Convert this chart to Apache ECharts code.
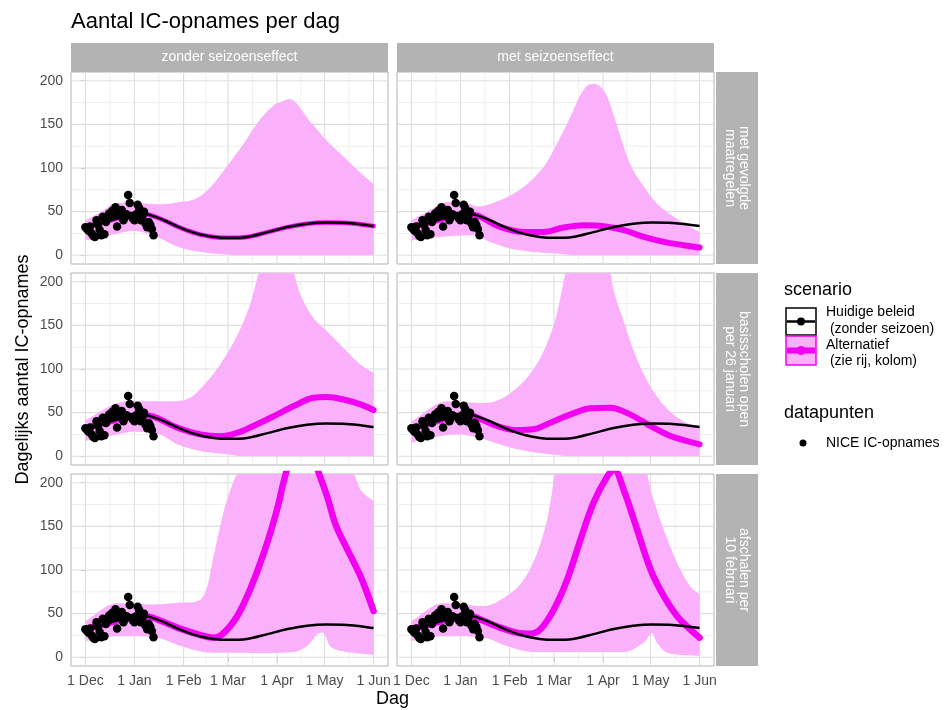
<!DOCTYPE html>
<html>
<head>
<meta charset="utf-8">
<script src="https://cdn.jsdelivr.net/npm/echarts@6/dist/echarts.min.js"></script>
<style>
  html, body { margin: 0; padding: 0; background: #fff; }
  #chart { width: 945px; height: 710px; }
</style>
</head>
<body>
<div id="chart"></div>
<script>
// dagen sinds 1 dec 2020
const monthDays = [0, 31, 62, 90, 121, 151, 182];
const monthLabels = ['1 Dec', '1 Jan', '1 Feb', '1 Mar', '1 Apr', '1 May', '1 Jun'];
const minorDays = [15.5, 46.5, 76, 105.5, 136, 166.5];
const yMajor = [0, 50, 100, 150, 200];
const yMinor = [25, 75, 125, 175];

const colLabels = ['zonder seizoenseffect', 'met seizoenseffect'];
const rowLabels = [
    ['met gevolgde', 'maatregelen'],
    ['basisscholen open', 'per 26 januari'],
    ['afschalen per', '10 februari']
];

// NICE datapunten
const niceDays = [0, 1, 2, 3, 4, 5, 6, 7, 8, 9, 10, 11, 12, 13, 14, 15, 16, 17, 18, 19, 20, 21,
    22, 23, 24, 25, 26, 27, 28, 29, 30, 31, 32, 33, 34, 35, 36, 37, 38, 39, 40, 41, 42, 43];
const niceValues = [32, 30, 28, 33, 25, 22, 21, 40, 35, 29, 23, 44, 24, 38, 42, 48, 45, 51, 47, 55, 33, 50,
    46, 52, 40, 44, 47, 69, 60, 45, 42, 40, 47, 58, 54, 40, 44, 50, 36, 32, 38, 35, 30, 23];

// huidige beleid (zelfde in elk paneel)
const baseline = [[0, 32], [10, 37], [20, 42], [31, 46.5], [38, 47], [45, 43.5], [51, 39], [58, 33], [65, 28],
    [72, 24], [81, 21], [90, 20], [102, 21], [115, 26.5], [127, 32], [140, 36], [152, 37.5], [165, 37], [182, 33.5]];

// rij 1: met gevolgde maatregelen
const r1c1Upper = [[0, 40], [10, 50], [18, 59], [30, 60], [47, 58.5], [60, 61], [70, 65], [79, 78], [89, 101],
    [100, 128], [110, 155], [119, 172], [124, 176], [129, 179], [142, 153], [152, 132], [163, 113], [174, 94], [182, 81.5]];
const r1c1Lower = [[0, 17], [16, 23], [30, 28], [45, 21], [58, 10], [72, 4], [89, 0.8], [100, 0], [182, 0]];
const r1c2Upper = [[0, 40], [12, 52], [22.5, 61], [35, 60], [41.5, 56], [56, 63], [71, 78.5], [83.6, 101.5], [92, 128],
    [100.5, 159], [106.8, 184], [113, 196], [118, 195], [123.6, 182], [130, 147.5], [138, 105], [146.8, 78.5],
    [155, 59.4], [165.7, 44], [176, 32.6], [182, 26.8]];
const r1c2Lower = [[0, 17], [18, 21], [39, 23], [50, 15], [62.5, 7.7], [77, 3.8], [92, 1.9], [105, 0], [182, 0]];
const r1c2Alt = [[0, 32], [10, 37], [20, 42], [31, 46.5], [38, 47], [43.6, 44], [56, 32.6], [71, 26.8], [83.6, 26.8],
    [96, 31.8], [108.9, 34.5], [121.5, 33.3], [134, 28.7], [146.8, 21], [159.4, 15.3], [172, 11.5], [182, 8.8]];

// rij 2: basisscholen open per 26 januari
const r2c1Upper = [[0, 41], [20, 61], [37, 63], [54, 63], [66, 67], [75, 82], [85, 105], [96, 139], [104, 174],
    [109.5, 210], [115, 235], [122, 245], [128, 228], [131.6, 210], [135.8, 185], [144, 158.5], [152.7, 143],
    [163, 124], [173.7, 105], [182, 95.6]];
const r2c1Lower = [[0, 17.5], [20, 25], [30, 28], [47, 25], [58, 13.7], [72.7, 6], [89.5, 2.3], [100, 0], [182, 0]];
const r2c1Alt = [[0, 32], [10, 37], [20, 42], [31, 46.5], [38, 47], [45, 44], [58, 32.8], [72.7, 25], [85, 23],
    [96, 27], [106, 34.7], [119, 46], [131.6, 57.5], [144, 67], [152.7, 67.8], [163, 65], [173.7, 59.4], [182, 53]];
const r2c2Upper = [[0, 40], [22.5, 63], [45.7, 61], [58, 67], [71, 86], [81.5, 113], [90, 151], [94, 181], [97.3, 210],
    [104, 245], [112, 260], [120, 245], [125.7, 210], [127.8, 189], [134, 155], [140.5, 120], [149, 86],
    [159, 59.4], [170, 42], [182, 32.8]];
const r2c2Lower = [[0, 15.6], [15, 22], [29, 25], [45.7, 19.4], [62.5, 10], [79.4, 4], [92, 1.5], [100, 0], [182, 0]];
const r2c2Alt = [[0, 32], [10, 37], [20, 42], [31, 46.5], [38, 47], [42, 44], [54, 34.7], [66.8, 30], [77, 30.9],
    [87.8, 38.5], [100.5, 48], [113, 54.9], [125.7, 55.6], [138, 48], [151, 34.7], [163.6, 23.2], [182, 13.7]];

// rij 3: afschalen per 10 februari
const r3c1Upper = [[0, 41.5], [20, 62], [43, 60.6], [58, 62.5], [72.7, 66], [77, 81.5], [81, 116], [87, 165],
    [91.6, 192], [94.8, 207], [97, 215], [130, 260], [165, 215], [169.5, 210], [173.7, 192], [182, 178.7]];
const r3c1Lower = [[0, 18.7], [20, 24], [45, 22.5], [60, 13], [74.8, 6], [90.6, 5.3], [131.6, 6], [140, 13],
    [148.5, 28], [151, 27], [154, 14], [158, 9], [165, 6], [182, 2.7]];
const r3c1Alt = [[0, 32], [10, 37], [20, 42], [31, 46.5], [38, 47], [43, 45], [58, 34], [72.7, 25.5], [81, 22.5],
    [87.4, 28], [95.8, 47], [104, 77.7], [112.7, 119.6], [121, 169], [125, 199.6], [130, 230], [137, 250],
    [143, 235], [147.4, 211], [152.7, 184], [158, 152], [165, 125], [173.7, 93], [182, 53]];
const r3c2Upper = [[0, 41.5], [20, 62], [45.7, 58.7], [60, 70], [71, 89], [79.4, 119.6], [85.7, 157.7], [89, 192],
    [90, 207], [92, 220], [120, 280], [147, 215], [149, 210], [151, 192], [159.4, 146], [167.8, 108], [176, 81.5], [182, 72]];
const r3c2Lower = [[0, 18.7], [20, 24], [45.7, 22.5], [60, 13], [77, 6], [134, 6], [146.8, 16.8], [152, 28],
    [155, 16.8], [161.5, 5.3], [182, 1.5]];
const r3c2Alt = [[0, 32], [10, 37], [20, 42], [31, 46.5], [38, 47], [43.6, 43.4], [56, 34], [66.8, 28], [75, 27],
    [81.5, 32], [90, 55], [98.4, 89], [106.8, 135], [115, 177], [123.6, 207], [128, 215], [134, 192], [142.6, 146],
    [151, 100.6], [159.4, 70], [167.8, 47], [176, 32], [182, 22.5]];

const panels = [
    { upper: r1c1Upper, lower: r1c1Lower, alt: baseline, altWidth: 4.5 },
    { upper: r1c2Upper, lower: r1c2Lower, alt: r1c2Alt, altWidth: 6 },
    { upper: r2c1Upper, lower: r2c1Lower, alt: r2c1Alt, altWidth: 6 },
    { upper: r2c2Upper, lower: r2c2Lower, alt: r2c2Alt, altWidth: 6 },
    { upper: r3c1Upper, lower: r3c1Lower, alt: r3c1Alt, altWidth: 6.5 },
    { upper: r3c2Upper, lower: r3c2Lower, alt: r3c2Alt, altWidth: 6.5 }
];

const FONT = '"Liberation Sans", Arial, Helvetica, sans-serif';
const BAND = '#FAB0FA';
const MAGENTA = '#F200F2';
const STRIP = '#B3B3B3';
const GRIDMAJ = '#DEDEDE';
const GRIDMIN = '#EBEBEB';

const xMin = -9.1, xMax = 191.1, yMin = -10, yMax = 210;
const colLeft = [71, 397], panelW = 317;
const rowTop = [72, 273, 474], panelH = 192;

const chart = echarts.init(document.getElementById('chart'));

// rasterlijnen via de assen van het paneel
function gridSeries(i) {
    return {
        type: 'custom', xAxisIndex: i, yAxisIndex: i, z: 1, silent: true, data: [0],
        renderItem: (params, api) => {
            const children = [];
            const vline = (d, c, w) => {
                const a = api.coord([d, yMin]), b = api.coord([d, yMax]);
                children.push({ type: 'line', shape: { x1: a[0], y1: a[1], x2: b[0], y2: b[1] }, style: { stroke: c, lineWidth: w } });
            };
            const hline = (v, c, w) => {
                const a = api.coord([xMin, v]), b = api.coord([xMax, v]);
                children.push({ type: 'line', shape: { x1: a[0], y1: a[1], x2: b[0], y2: b[1] }, style: { stroke: c, lineWidth: w } });
            };
            minorDays.forEach(d => vline(d, GRIDMIN, 0.8));
            yMinor.forEach(v => hline(v, GRIDMIN, 0.8));
            monthDays.forEach(d => vline(d, GRIDMAJ, 1.1));
            yMajor.forEach(v => hline(v, GRIDMAJ, 1.1));
            return { type: 'group', children };
        }
    };
}

// monotone kromme door pixelpunten (zoals smooth bij een lijn)
function smoothPixels(pts) {
    const n = pts.length;
    if (n < 3) return pts;
    const dx = [], m = [], t = [];
    for (let k = 0; k < n - 1; k++) {
        dx.push(pts[k + 1][0] - pts[k][0]);
        m.push((pts[k + 1][1] - pts[k][1]) / dx[k]);
    }
    t.push(m[0]);
    for (let k = 1; k < n - 1; k++) {
        t.push(m[k - 1] * m[k] <= 0 ? 0 : (dx[k - 1] * m[k - 1] + dx[k] * m[k]) / (dx[k - 1] + dx[k]));
    }
    t.push(m[n - 2]);
    const out = [];
    for (let k = 0; k < n - 1; k++) {
        const steps = Math.max(2, Math.ceil(dx[k] / 2));
        for (let s = 0; s < steps; s++) {
            const u = s / steps, h = dx[k];
            const h00 = 2 * u * u * u - 3 * u * u + 1, h10 = u * u * u - 2 * u * u + u;
            const h01 = -2 * u * u * u + 3 * u * u, h11 = u * u * u - u * u;
            out.push([pts[k][0] + u * h,
                h00 * pts[k][1] + h10 * h * t[k] + h01 * pts[k + 1][1] + h11 * h * t[k + 1]]);
        }
    }
    out.push(pts[n - 1]);
    return out;
}

// onzekerheidsband als polygoon, geklemd binnen het paneel
function bandSeries(i, upper, lower) {
    return {
        type: 'custom', xAxisIndex: i, yAxisIndex: i, z: 2, silent: true, data: [0],
        renderItem: (params, api) => {
            const cs = params.coordSys;
            const up = smoothPixels(upper.map(p => api.coord(p)));
            const lo = smoothPixels(lower.map(p => api.coord(p)));
            const pts = up.concat(lo.reverse()).map(c =>
                [Math.min(Math.max(c[0], cs.x), cs.x + cs.width), Math.min(Math.max(c[1], cs.y), cs.y + cs.height)]);
            return { type: 'polygon', shape: { points: pts }, style: { fill: BAND } };
        }
    };
}

const grids = [], xAxes = [], yAxes = [], series = [];
panels.forEach((p, i) => {
    const row = Math.floor(i / 2), col = i % 2;
    const isLeft = col === 0, isBottom = row === 2;
    grids.push({
        left: colLeft[col], top: rowTop[row], width: panelW, height: panelH,
        show: true, backgroundColor: '#fff', borderColor: STRIP, borderWidth: 1,
        containLabel: false, outerBoundsMode: 'none'
    });
    xAxes.push({
        type: 'value', gridIndex: i, min: xMin, max: xMax,
        axisLine: { show: false }, splitLine: { show: false },
        axisTick: { show: isBottom, customValues: monthDays, length: 4.5, lineStyle: { color: STRIP, width: 1 } },
        axisLabel: {
            show: isBottom, customValues: monthDays, margin: 8, color: '#4D4D4D', fontSize: 14, fontFamily: FONT,
            formatter: v => { const k = monthDays.indexOf(v); return k >= 0 ? monthLabels[k] : ''; }
        }
    });
    yAxes.push({
        type: 'value', gridIndex: i, min: yMin, max: yMax,
        axisLine: { show: false }, splitLine: { show: false },
        axisTick: { show: isLeft, customValues: yMajor, length: 4.5, lineStyle: { color: STRIP, width: 1 } },
        axisLabel: {
            show: isLeft, customValues: yMajor, margin: 8, color: '#4D4D4D', fontSize: 14, fontFamily: FONT,
            formatter: v => (yMajor.indexOf(v) >= 0 ? String(v) : '')
        }
    });
    series.push(gridSeries(i));
    series.push(bandSeries(i, p.upper, p.lower));
    series.push({
        type: 'line', xAxisIndex: i, yAxisIndex: i, z: 3, data: p.alt, smooth: 0.35, showSymbol: false,
        silent: true, lineStyle: { color: MAGENTA, width: p.altWidth, cap: 'round' }
    });
    series.push({
        type: 'line', xAxisIndex: i, yAxisIndex: i, z: 4, data: baseline, smooth: 0.35, showSymbol: false,
        silent: true, lineStyle: { color: '#000', width: 2.5 }
    });
    series.push({
        type: 'scatter', xAxisIndex: i, yAxisIndex: i, z: 5, silent: true, symbolSize: 8.5,
        itemStyle: { color: '#000', opacity: 1 },
        data: niceDays.map((d, k) => [d, niceValues[k]])
    });
});

// strips, titels en legenda
const graphics = [];
const txt = (text, x, y, size, opts = {}) => graphics.push({
    type: 'text', x, y, rotation: opts.rotation || 0, z: 10,
    style: {
        text, fill: opts.color || '#000', fontSize: size, fontFamily: FONT,
        align: opts.align || 'left', verticalAlign: 'middle'
    }
});

txt('Aantal IC-opnames per dag', 71, 22, 22);
colLabels.forEach((lab, c) => {
    graphics.push({ type: 'rect', shape: { x: colLeft[c], y: 43, width: panelW, height: 29 }, style: { fill: STRIP }, z: 9 });
    txt(lab, colLeft[c] + panelW / 2, 57.5, 14, { color: '#fff', align: 'center' });
});
rowLabels.forEach((lines, r) => {
    graphics.push({ type: 'rect', shape: { x: 716, y: rowTop[r], width: 42, height: panelH }, style: { fill: STRIP }, z: 9 });
    const cy = rowTop[r] + panelH / 2;
    txt(lines[0], 744, cy, 14, { color: '#fff', align: 'center', rotation: -Math.PI / 2 });
    txt(lines[1], 730, cy, 14, { color: '#fff', align: 'center', rotation: -Math.PI / 2 });
});
txt('Dag', 392.5, 699, 18, { align: 'center' });
txt('Dagelijks aantal IC-opnames', 23, 369.5, 18, { align: 'center', rotation: Math.PI / 2 });

// legenda: scenario
txt('scenario', 784, 290, 18);
graphics.push({ type: 'rect', shape: { x: 786, y: 308, width: 30, height: 27 }, style: { fill: '#fff', stroke: '#000', lineWidth: 1.5 }, z: 9 });
graphics.push({ type: 'line', shape: { x1: 787, y1: 321.5, x2: 815, y2: 321.5 }, style: { stroke: '#000', lineWidth: 2.5 }, z: 10 });
graphics.push({ type: 'circle', shape: { cx: 801, cy: 321.5, r: 4 }, style: { fill: '#000' }, z: 10 });
graphics.push({ type: 'rect', shape: { x: 786, y: 336, width: 30, height: 29 }, style: { fill: BAND, stroke: MAGENTA, lineWidth: 1.5 }, z: 9 });
graphics.push({ type: 'line', shape: { x1: 787, y1: 350.5, x2: 815, y2: 350.5 }, style: { stroke: MAGENTA, lineWidth: 6 }, z: 10 });
graphics.push({ type: 'circle', shape: { cx: 801, cy: 350.5, r: 4.5 }, style: { fill: MAGENTA }, z: 10 });
txt('Huidige beleid', 826, 312.5, 14);
txt(' (zonder seizoen)', 826, 329, 14);
txt('Alternatief', 826, 345, 14);
txt(' (zie rij, kolom)', 826, 361, 14);

// legenda: datapunten
txt('datapunten', 784, 413, 18);
graphics.push({ type: 'circle', shape: { cx: 803, cy: 443, r: 3.5 }, style: { fill: '#000' }, z: 10 });
txt('NICE IC-opnames', 826, 443, 14);

chart.setOption({
    animation: false,
    backgroundColor: '#fff',
    grid: grids,
    xAxis: xAxes,
    yAxis: yAxes,
    series: series,
    graphic: graphics
});
</script>
</body>
</html>
